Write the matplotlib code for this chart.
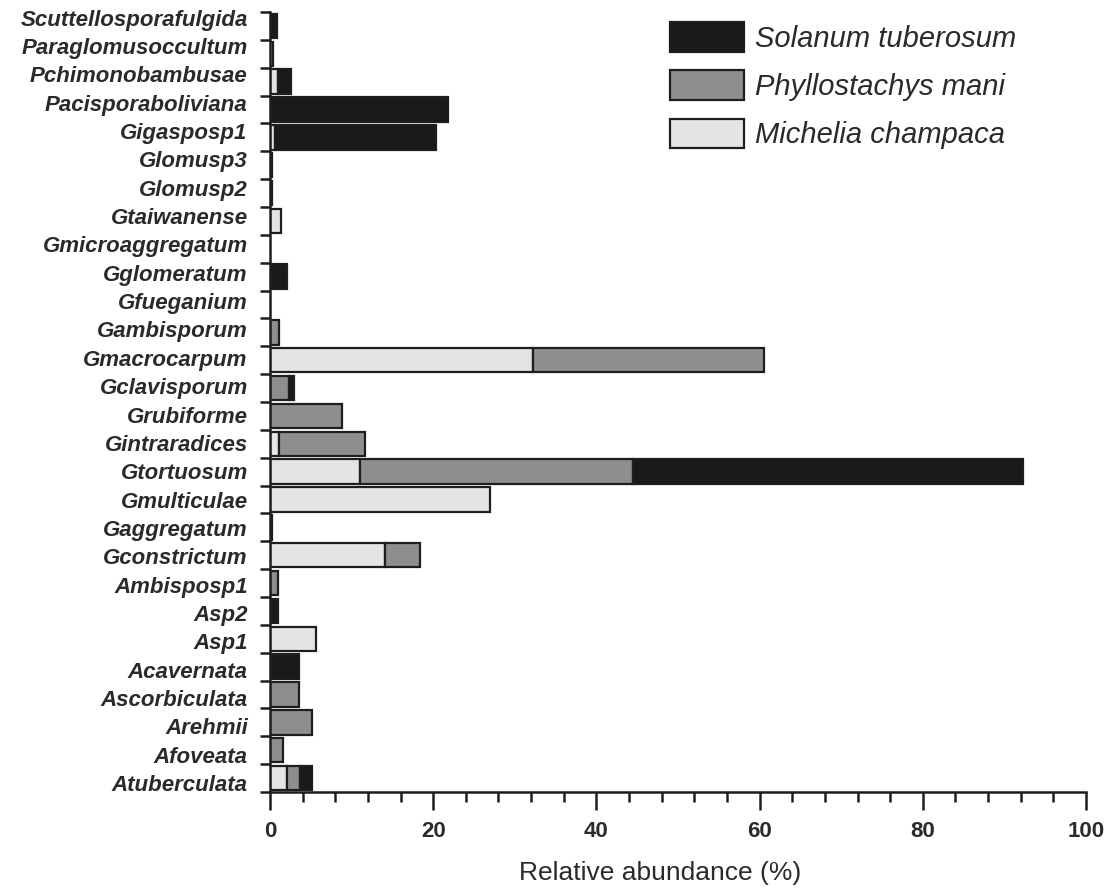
import matplotlib
matplotlib.use("Agg")
import matplotlib.pyplot as plt
import numpy as np
from matplotlib.ticker import MultipleLocator, FixedLocator
from matplotlib.patches import Patch

categories = ["Scuttellosporafulgida", "Paraglomusoccultum", "Pchimonobambusae",
              "Pacisporaboliviana", "Gigasposp1", "Glomusp3", "Glomusp2", "Gtaiwanense",
              "Gmicroaggregatum", "Gglomeratum", "Gfueganium", "Gambisporum",
              "Gmacrocarpum", "Gclavisporum", "Grubiforme", "Gintraradices", "Gtortuosum",
              "Gmulticulae", "Gaggregatum", "Gconstrictum", "Ambisposp1", "Asp2", "Asp1",
              "Acavernata", "Ascorbiculata", "Arehmii", "Afoveata", "Atuberculata"]

michelia = [0.0, 0.4, 1.0, 0.0, 0.6, 0.0, 0.0, 1.4,
            0.0, 0.0, 0.0, 0.0,
            32.2, 0.0, 0.0, 1.1, 11.0,
            27.0, 0.0, 14.1, 0.0, 0.0, 5.6,
            0.0, 0.0, 0.0, 0.0, 2.1]
phyllostachys = [0.0, 0.0, 0.0, 0.0, 0.0, 0.0, 0.0, 0.0,
                 0.0, 0.0, 0.0, 1.1,
                 28.3, 2.3, 8.8, 10.5, 33.5,
                 0.0, 0.0, 4.3, 1.0, 0.0, 0.0,
                 0.0, 3.5, 5.1, 1.6, 1.6]
solanum = [0.8, 0.0, 1.6, 21.8, 19.7, 0.3, 0.3, 0.0,
           0.0, 2.1, 0.0, 0.0,
           0.0, 0.7, 0.0, 0.0, 47.8,
           0.0, 0.3, 0.0, 0.0, 1.0, 0.0,
           3.5, 0.0, 0.0, 0.0, 1.4]

series_names = ["Solanum tuberosum", "Phyllostachys mani", "Michelia champaca"]
colors = {"Solanum tuberosum": "#1a1a1a", "Phyllostachys mani": "#8e8e8e",
          "Michelia champaca": "#e4e4e4"}

W, H = 1110, 892
fig = plt.figure(figsize=(W / 100, H / 100), dpi=100)
ax = fig.add_axes([270 / W, 1 - 792 / H, (1086 - 270) / W, (792 - 12) / H])

n = len(categories)
y = np.arange(n)[::-1].astype(float)
edge = "#1e1e1e"
lw = 1.6
hgt = 0.88

m = np.array(michelia)
p = np.array(phyllostachys)
s = np.array(solanum)

bm = ax.barh(y, m, height=hgt, color=colors["Michelia champaca"], edgecolor=edge, linewidth=lw)
bp = ax.barh(y, p, left=m, height=hgt, color=colors["Phyllostachys mani"], edgecolor=edge, linewidth=lw)
bs = ax.barh(y, s, left=m + p, height=hgt, color=colors["Solanum tuberosum"], edgecolor=edge, linewidth=lw)
for cont, vals in ((bm, m), (bp, p), (bs, s)):
    for rect, v in zip(cont, vals):
        if v <= 0:
            rect.set_visible(False)

ax.set_xlim(0, 100)
ax.set_ylim(-0.5, n - 0.5)

ax.spines["top"].set_visible(False)
ax.spines["right"].set_visible(False)
for sp in ("left", "bottom"):
    ax.spines[sp].set_linewidth(1.8)
    ax.spines[sp].set_color("#1e1e1e")

# label positions slightly spread relative to the bars, as in the original
label_y = y - 0.18 + 0.48 * y / (n - 1)
ax.set_yticks(label_y)
ax.set_yticklabels(categories, fontfamily="Liberation Sans", fontweight="bold",
                   fontstyle="italic", fontsize=16, color="#2a2a2a")
ax.yaxis.set_minor_locator(FixedLocator(np.arange(-0.5, n, 1.0)))
ax.tick_params(axis="y", which="major", length=0, pad=16)
ax.tick_params(axis="y", which="minor", length=7, width=1.8, color="#1e1e1e", direction="out")

ax.xaxis.set_major_locator(MultipleLocator(20))
ax.xaxis.set_minor_locator(MultipleLocator(4))
ax.tick_params(axis="x", which="major", length=13, width=1.8, color="#1e1e1e", pad=8)
ax.tick_params(axis="x", which="minor", length=7, width=1.8, color="#1e1e1e")
for lab in ax.get_xticklabels():
    lab.set_fontfamily("Liberation Sans")
    lab.set_fontweight("bold")
    lab.set_fontsize(16)
    lab.set_color("#2a2a2a")

ax.set_xlabel("Relative abundance (%)", fontfamily="Liberation Sans", fontsize=19,
              color="#2a2a2a")
ax.xaxis.set_label_coords((660 - 270) / 816, -0.088)

handles = [Patch(facecolor=colors[nm], edgecolor=edge, linewidth=lw) for nm in series_names]
leg = ax.legend(handles, series_names, loc="upper left",
                bbox_to_anchor=(670 / W, 1 - 22 / H), bbox_transform=fig.transFigure,
                frameon=False, prop={"family": "Liberation Sans", "style": "italic", "size": 21},
                handlelength=2.55, handleheight=1.2, labelspacing=0.6, handletextpad=0.35,
                borderpad=0, borderaxespad=0)
for t in leg.get_texts():
    t.set_color("#2a2a2a")

fig.savefig("out.png", dpi=100)
